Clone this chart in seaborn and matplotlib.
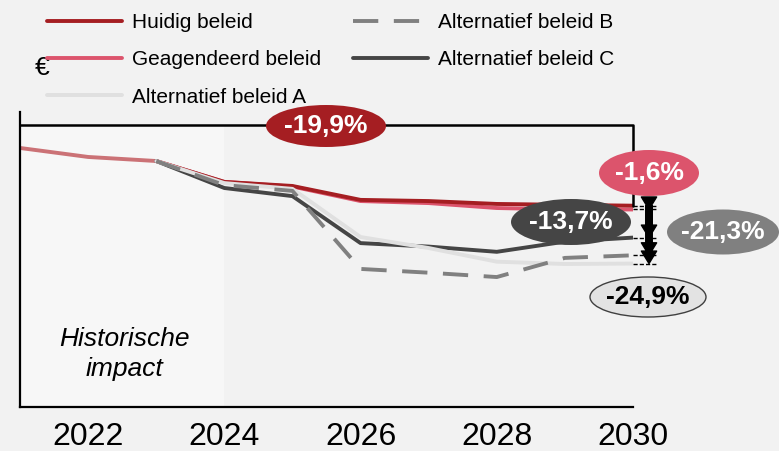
import matplotlib
matplotlib.use('Agg')
import matplotlib.pyplot as plt
from matplotlib.patches import Ellipse
from matplotlib.transforms import IdentityTransform
import seaborn as sns

# data (index, 2021 = 100)
jaren_hist = [2021, 2022, 2023]
historisch = [100.0, 96.9, 95.5]

jaren = [2023, 2024, 2025, 2026, 2027, 2028, 2029, 2030]
huidig = [95.5, 88.3, 86.9, 82.1, 81.7, 80.7, 80.4, 80.1]
geagendeerd = [95.5, 88.3, 86.7, 81.7, 81.0, 79.3, 78.8, 78.8]
alt_a = [95.5, 87.9, 85.9, 69.3, 65.5, 60.8, 60.0, 60.15]
alt_b = [95.5, 87.2, 85.2, 58.3, 57.0, 55.5, 62.1, 63.0]
alt_c = [95.5, 86.2, 83.4, 67.2, 66.0, 64.2, 67.7, 69.1]

x_ticks = [2022, 2024, 2026, 2028, 2030]
namen = ['Huidig beleid', 'Geagendeerd beleid', 'Alternatief beleid A',
         'Alternatief beleid B', 'Alternatief beleid C']
verschil = ['-19,9%', '-1,6%', '-13,7%', '-21,3%', '-24,9%']

sns.set_style('white')
plt.rcParams['font.family'] = ['Liberation Sans', 'DejaVu Sans']
plt.rcParams['text.color'] = 'black'
plt.rcParams['xtick.color'] = 'black'

BG = '#f2f2f2'
RED = '#a51e22'
PINK = '#dc546c'
LGREY = '#e0e0e0'
MGREY = '#808080'
DGREY = '#454545'

W, H = 779, 451
fig = plt.figure(figsize=(W / 100, H / 100), dpi=100, facecolor=BG)
ax = fig.add_axes([20 / W, 44 / H, 613 / W, 295 / H])
ax.set_facecolor('none')

ax.set_xlim(2021, 2030)
ax.set_ylim(10.7, 112.4)
top_val = 107.9  # level of the bracket line

ax.axvspan(2021, 2024, ymin=0, ymax=(top_val - 10.7) / (112.4 - 10.7),
           color='#f7f7f7', zorder=0, lw=0)

lw = 2.8
sns.lineplot(x=jaren_hist, y=historisch, color='#cb7276', lw=lw, ax=ax)
sns.lineplot(x=jaren, y=geagendeerd, color=PINK, lw=lw, ax=ax, label=namen[1])
sns.lineplot(x=jaren, y=huidig, color=RED, lw=lw, ax=ax, label=namen[0])
sns.lineplot(x=jaren, y=alt_c, color=DGREY, lw=lw, ax=ax, label=namen[4])
sns.lineplot(x=jaren, y=alt_a, color=LGREY, lw=lw, ax=ax, label=namen[2])
sns.lineplot(x=jaren, y=alt_b, color=MGREY, lw=lw, ax=ax, label=namen[3],
             linestyle=(0, (6.5, 4)))

# bracket 2021 -> 2030
ax.plot([2021, 2030, 2030], [top_val, top_val, huidig[-1]], color='black',
        lw=1.8, clip_on=False, zorder=5)

# dashed reference lines and arrows at 2030
x_arr = 2030.235
for v in [huidig[-1], geagendeerd[-1], alt_c[-1], alt_b[-1], alt_a[-1]]:
    ax.plot([2030, 2030.36], [v, v], color='black', lw=1, ls=(0, (3, 1.5)),
            clip_on=False, zorder=5)
for v in [alt_a[-1], alt_b[-1], alt_c[-1], geagendeerd[-1]]:
    ax.annotate('', xy=(x_arr, v), xytext=(x_arr, huidig[-1]),
                arrowprops=dict(arrowstyle='simple,head_width=1.1,head_length=0.9,tail_width=0.45',
                                color='black', shrinkA=0, shrinkB=0, mutation_scale=10),
                annotation_clip=False, zorder=6)

ax.text(2022.54, 29, 'Historische\nimpact', ha='center', va='center',
        fontsize=19, style='italic', linespacing=1.35, color='black')

ax.set_xticks(x_ticks)
ax.set_xticklabels([str(t) for t in x_ticks])
ax.tick_params(axis='x', length=0, labelsize=23, pad=11, labelcolor='black')
ax.tick_params(axis='y', left=False, labelleft=False)
ax.set_xlabel('')
ax.set_ylabel('')
sns.despine(ax=ax)
for s in ['left', 'bottom']:
    ax.spines[s].set_color('black')
    ax.spines[s].set_linewidth(1.6)

# legend
handles, labels = ax.get_legend_handles_labels()
ax.get_legend().remove()
order = [labels.index(n) for n in namen]
leg = fig.legend([handles[i] for i in order], [labels[i] for i in order],
                 ncol=2, loc='upper left', bbox_to_anchor=(47 / W, 1 - 13 / H),
                 frameon=False, fontsize=15, handlelength=3.6, handletextpad=0.5,
                 columnspacing=1.5, labelspacing=0.88, borderpad=0, borderaxespad=0)
for t in leg.get_texts():
    t.set_color('black')

fig.text(42 / W, 1 - 68 / H, '€', ha='center', va='center', fontsize=19)


# percentage bubbles (figure pixels, origin top-left)
def bubble(cx, cy, w, h, txt, face, tc='white', edge='none'):
    e = Ellipse((cx, H - cy), w, h, transform=IdentityTransform(),
                facecolor=face, edgecolor=edge, lw=1, zorder=10)
    fig.add_artist(e)
    fig.text(cx / W, 1 - cy / H, txt, ha='center', va='center', fontsize=19,
             fontweight='bold', color=tc, zorder=11)


bubble(326, 126, 120, 42, verschil[0], RED)
bubble(649, 173, 100, 46, verschil[1], PINK)
bubble(571, 222, 120, 46, verschil[2], DGREY)
bubble(723, 232, 112, 45, verschil[3], MGREY)
bubble(648, 297, 116, 40, verschil[4], '#e3e3e3', tc='black', edge='#404040')

fig.savefig('out.png', dpi=100, facecolor=BG)
